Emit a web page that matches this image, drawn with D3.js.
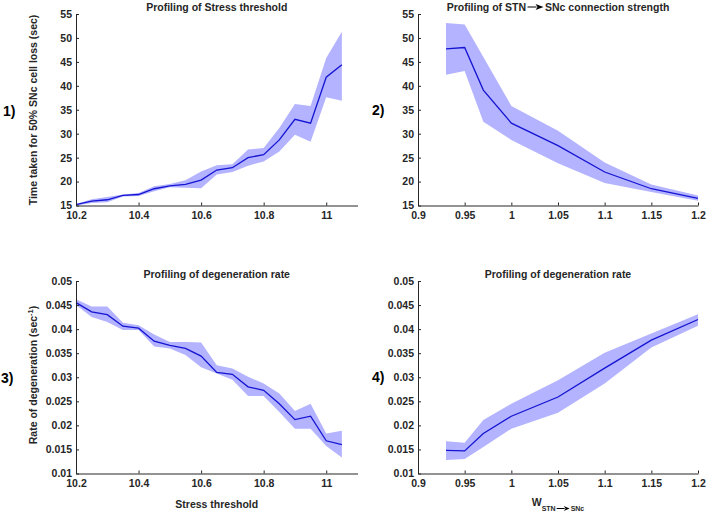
<html lang="en">
<head>
<meta charset="UTF-8">
<script src="https://d3js.org/d3.v7.min.js"></script>
<title>Profiling</title>
<style>
  body { margin: 0; background: #fff; }
  svg { display: block; font-family: "Liberation Sans", Arial, sans-serif; }
  .axis path, .axis line { stroke: #262626; stroke-width: 1; }
  .axis text { fill: #262626; font-size: 10.5px; font-weight: bold; font-family: "Liberation Sans", Arial, sans-serif; }
  .lbl { fill: #262626; font-size: 10.5px; font-weight: bold; }
  .num { fill: #000; font-size: 14px; font-weight: bold; }
</style>
</head>
<body>
<svg id="chart" width="708" height="514"></svg>
<script>
// ---- data ----
const stressX = [10.2, 10.25, 10.3, 10.35, 10.4, 10.45, 10.5, 10.55, 10.6, 10.65, 10.7, 10.75, 10.8, 10.85, 10.9, 10.95, 11, 11.05];
const timeStressMean  = [15.2, 15.9, 16.2, 17.1, 17.3, 18.5, 19.1, 19.4, 20.3, 22.4, 22.9, 25.0, 25.6, 28.7, 33.0, 32.2, 41.8, 44.4];
const timeStressUpper = [15.3, 16.3, 16.8, 17.3, 17.6, 19.0, 19.5, 20.3, 22.1, 23.4, 23.6, 26.7, 27.0, 31.2, 36.2, 35.8, 45.8, 51.3];
const timeStressLower = [15.0, 15.5, 15.7, 16.9, 17.0, 18.0, 18.8, 18.7, 18.6, 21.5, 22.0, 23.3, 24.2, 26.3, 29.8, 28.3, 37.6, 36.9];

const wX = [0.93, 0.95, 0.97, 1.0, 1.05, 1.1, 1.15, 1.2];
const timeWMean  = [47.7, 48.0, 39.1, 32.2, 27.5, 22.0, 18.5, 16.5];
const timeWUpper = [53.1, 52.8, 46.0, 35.8, 30.6, 24.0, 19.4, 17.1];
const timeWLower = [42.3, 43.1, 32.5, 28.7, 23.8, 19.7, 17.8, 16.0];

const rateStressMean  = [0.0455, 0.0436, 0.0430, 0.0406, 0.0402, 0.0375, 0.0366, 0.0360, 0.0344, 0.0310, 0.0306, 0.0280, 0.0273, 0.0245, 0.0212, 0.0219, 0.0168, 0.0160];
const rateStressUpper = [0.0462, 0.0447, 0.0447, 0.0413, 0.0408, 0.0389, 0.0373, 0.0373, 0.0372, 0.0325, 0.0318, 0.0301, 0.0287, 0.0266, 0.0230, 0.0245, 0.0183, 0.0189];
const rateStressLower = [0.0450, 0.0425, 0.0415, 0.0398, 0.0398, 0.0364, 0.0360, 0.0346, 0.0321, 0.0308, 0.0295, 0.0261, 0.0261, 0.0228, 0.0193, 0.0193, 0.0157, 0.0133];

const rateWMean  = [0.0148, 0.0147, 0.0183, 0.0219, 0.0259, 0.0319, 0.0377, 0.0420];
const rateWUpper = [0.0167, 0.0164, 0.0211, 0.0245, 0.0294, 0.0351, 0.0391, 0.0431];
const rateWLower = [0.0128, 0.0130, 0.0155, 0.0193, 0.0226, 0.0287, 0.0362, 0.0407];

// tick values and labels
const stressTicks = [10.2, 10.4, 10.6, 10.8, 11];
const stressTickLabels = ["10.2", "10.4", "10.6", "10.8", "11"];
const wTicks = [0.9, 0.95, 1, 1.05, 1.1, 1.15, 1.2];
const wTickLabels = ["0.9", "0.95", "1", "1.05", "1.1", "1.15", "1.2"];
const timeTicks = [15, 20, 25, 30, 35, 40, 45, 50, 55];
const timeTickLabels = ["15", "20", "25", "30", "35", "40", "45", "50", "55"];
const rateTicks = [0.01, 0.015, 0.02, 0.025, 0.03, 0.035, 0.04, 0.045, 0.05];
const rateTickLabels = ["0.01", "0.015", "0.02", "0.025", "0.03", "0.035", "0.04", "0.045", "0.05"];

const svg = d3.select('#chart');
const fillCol = '#b3b3ff';
const lineCol = '#1414d2';

function zip(xs, m, lo, hi) {
    return xs.map((x, i) => ({ x: x, m: m[i], lo: lo[i], hi: hi[i] }));
}

function drawPanel(p) {
    const x = d3.scaleLinear().domain(p.xDomain).range([p.left, p.right]);
    const y = d3.scaleLinear().domain(p.yDomain).range([p.bottom, p.top]);
    const data = zip(p.xs, p.mean, p.lower, p.upper);

    const area = d3.area().x(d => x(d.x)).y0(d => y(d.lo)).y1(d => y(d.hi));
    const line = d3.line().x(d => x(d.x)).y(d => y(d.m));

    svg.append('path').datum(data)
        .attr('d', area)
        .attr('fill', fillCol)
        .attr('stroke', 'none');

    svg.append('path').datum(data)
        .attr('d', line)
        .attr('fill', 'none')
        .attr('stroke', lineCol)
        .attr('stroke-width', 1.3);

    const xAxis = d3.axisBottom(x)
        .tickValues(p.xTicks)
        .tickFormat((d, i) => p.xLabels[i])
        .tickSizeInner(-3).tickSizeOuter(0).tickPadding(6);
    const yAxis = d3.axisLeft(y)
        .tickValues(p.yTicks)
        .tickFormat((d, i) => p.yLabels[i])
        .tickSizeInner(-3).tickSizeOuter(0).tickPadding(4);

    svg.append('g').attr('class', 'axis')
        .attr('transform', 'translate(0,' + p.bottom + ')')
        .call(xAxis);
    svg.append('g').attr('class', 'axis')
        .attr('transform', 'translate(' + p.left + ',0)')
        .call(yAxis);

    return (p.left + p.right) / 2;
}

// arrow like the one in the titles: short shaft + filled head
function arrow(g, x0, yMid, len, head, hw) {
    g.append('line')
        .attr('x1', x0).attr('x2', x0 + len - head + 1)
        .attr('y1', yMid).attr('y2', yMid)
        .attr('stroke', '#000').attr('stroke-width', 1);
    g.append('path')
        .attr('d', 'M' + (x0 + len - head) + ',' + (yMid - hw) + 'L' + (x0 + len) + ',' + yMid + 'L' + (x0 + len - head) + ',' + (yMid + hw) + 'L' + (x0 + len - head + 2) + ',' + yMid + 'Z')
        .attr('fill', '#000');
}

const topBox = { top: 14, bottom: 205.5 };
const botBox = { top: 281, bottom: 473.5 };
const leftX = { left: 76, right: 357.5 };
const rightX = { left: 418, right: 698 };

// panel 1
const c1 = drawPanel(Object.assign({}, topBox, leftX, {
    xDomain: [10.2, 11.1], yDomain: [15, 55],
    xs: stressX, mean: timeStressMean, lower: timeStressLower, upper: timeStressUpper,
    xTicks: stressTicks, xLabels: stressTickLabels, yTicks: timeTicks, yLabels: timeTickLabels
}));
// panel 2
const c2 = drawPanel(Object.assign({}, topBox, rightX, {
    xDomain: [0.9, 1.2], yDomain: [15, 55],
    xs: wX, mean: timeWMean, lower: timeWLower, upper: timeWUpper,
    xTicks: wTicks, xLabels: wTickLabels, yTicks: timeTicks, yLabels: timeTickLabels
}));
// panel 3
const c3 = drawPanel(Object.assign({}, botBox, leftX, {
    xDomain: [10.2, 11.1], yDomain: [0.01, 0.05],
    xs: stressX, mean: rateStressMean, lower: rateStressLower, upper: rateStressUpper,
    xTicks: stressTicks, xLabels: stressTickLabels, yTicks: rateTicks, yLabels: rateTickLabels
}));
// panel 4
const c4 = drawPanel(Object.assign({}, botBox, rightX, {
    xDomain: [0.9, 1.2], yDomain: [0.01, 0.05],
    xs: wX, mean: rateWMean, lower: rateWLower, upper: rateWUpper,
    xTicks: wTicks, xLabels: wTickLabels, yTicks: rateTicks, yLabels: rateTickLabels
}));

// titles
svg.append('text').attr('class', 'lbl').attr('x', c1).attr('y', 11)
    .attr('text-anchor', 'middle').text('Profiling of Stress threshold');
svg.append('text').attr('class', 'lbl').attr('x', c3).attr('y', 277.5)
    .attr('text-anchor', 'middle').text('Profiling of degeneration rate');
svg.append('text').attr('class', 'lbl').attr('x', c4).attr('y', 277.5)
    .attr('text-anchor', 'middle').text('Profiling of degeneration rate');

// title 2 with arrow
(function () {
    const g = svg.append('g');
    const t1 = g.append('text').attr('class', 'lbl').attr('y', 11).text('Profiling of STN');
    const t2 = g.append('text').attr('class', 'lbl').attr('y', 11).text('SNc connection strength');
    const w1 = t1.node().getComputedTextLength();
    const w2 = t2.node().getComputedTextLength();
    const aw = 16, gap = 1.5;
    const total = w1 + gap + aw + gap + w2;
    const x0 = c2 - total / 2;
    t1.attr('x', x0);
    arrow(g, x0 + w1 + gap, 7, aw, 8, 3);
    t2.attr('x', x0 + w1 + gap + aw + gap);
})();

// x labels
svg.append('text').attr('class', 'lbl').attr('x', c3).attr('y', 508)
    .attr('text-anchor', 'middle').text('Stress threshold');
(function () {
    const g = svg.append('g');
    const tw = g.append('text').attr('class', 'lbl').attr('y', 506).text('W');
    const ts = g.append('text').attr('class', 'lbl').attr('y', 511).style('font-size', '7px').text('STN');
    const tn = g.append('text').attr('class', 'lbl').attr('y', 511).style('font-size', '7px').text('SNc');
    const ww = tw.node().getComputedTextLength();
    const ws = ts.node().getComputedTextLength();
    const wn = tn.node().getComputedTextLength();
    const aw = 13;
    const total = ww + ws + 1 + aw + 1 + wn;
    const x0 = c4 - total / 2;
    tw.attr('x', x0);
    ts.attr('x', x0 + ww);
    arrow(g, x0 + ww + ws + 1, 508.5, aw, 6, 2.5);
    tn.attr('x', x0 + ww + ws + 1 + aw + 1);
})();

// y labels
svg.append('text').attr('class', 'lbl')
    .attr('transform', 'translate(37,110) rotate(-90)')
    .attr('text-anchor', 'middle')
    .text('Time taken for 50% SNc cell loss (sec)');
(function () {
    const t = svg.append('text').attr('class', 'lbl')
        .attr('transform', 'translate(37,375) rotate(-90)')
        .attr('text-anchor', 'middle');
    t.append('tspan').text('Rate of degeneration (sec');
    t.append('tspan').attr('dy', -4).style('font-size', '7.5px').text('-1');
    t.append('tspan').attr('dy', 4).text(')');
})();

// panel numbers
svg.append('text').attr('class', 'num').attr('x', 3).attr('y', 116).text('1)');
svg.append('text').attr('class', 'num').attr('x', 372).attr('y', 115).text('2)');
svg.append('text').attr('class', 'num').attr('x', 1).attr('y', 383).text('3)');
svg.append('text').attr('class', 'num').attr('x', 372).attr('y', 382).text('4)');
</script>
</body>
</html>
